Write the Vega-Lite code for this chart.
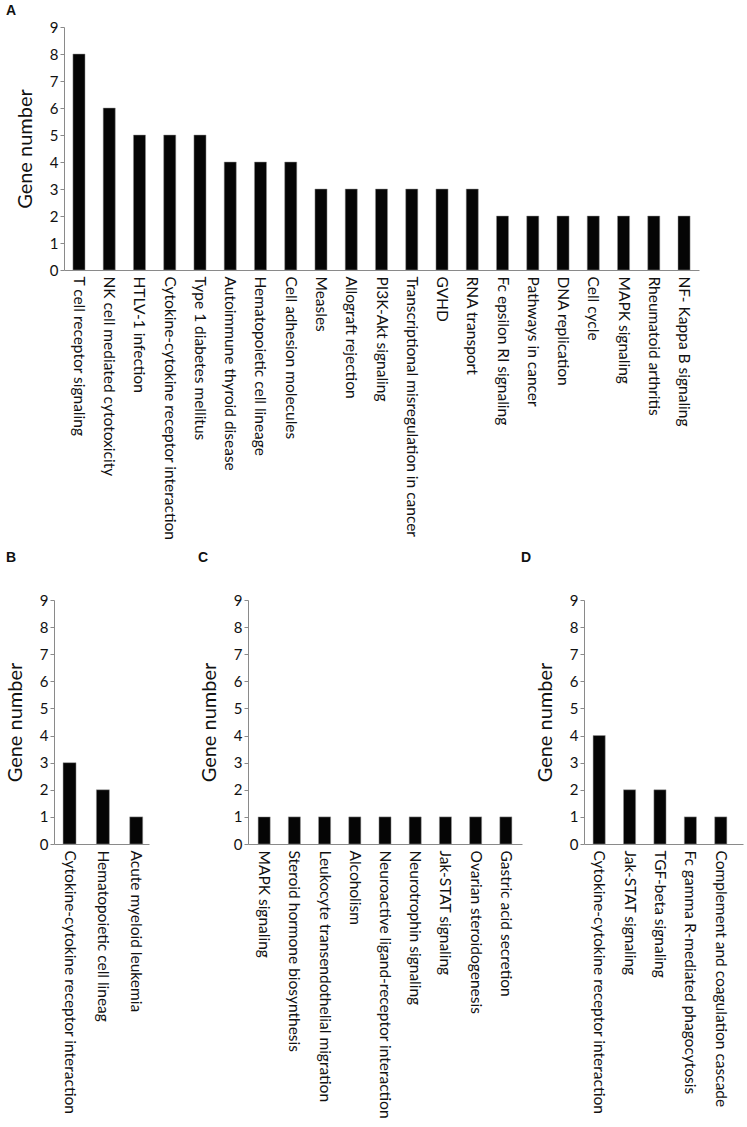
{
  "$schema": "https://vega.github.io/schema/vega-lite/v6.json",
  "background": "white",
  "padding": {"left": 5, "top": 4, "right": 5, "bottom": 5},
  "datasets": {
    "A": [
      {"pathway": "T cell receptor signaling", "genes": 8},
      {"pathway": "NK cell mediated cytotoxicity", "genes": 6},
      {"pathway": "HTLV-1 infection", "genes": 5},
      {"pathway": "Cytokine-cytokine receptor interaction", "genes": 5},
      {"pathway": "Type 1 diabetes mellitus", "genes": 5},
      {"pathway": "Autoimmune thyroid disease", "genes": 4},
      {"pathway": "Hematopoietic cell lineage", "genes": 4},
      {"pathway": "Cell adhesion molecules", "genes": 4},
      {"pathway": "Measles", "genes": 3},
      {"pathway": "Allograft rejection", "genes": 3},
      {"pathway": "PI3K-Akt signaling", "genes": 3},
      {"pathway": "Transcriptional misregulation in cancer", "genes": 3},
      {"pathway": "GVHD", "genes": 3},
      {"pathway": "RNA transport", "genes": 3},
      {"pathway": "Fc epsilon RI signaling", "genes": 2},
      {"pathway": "Pathways in cancer", "genes": 2},
      {"pathway": "DNA replication", "genes": 2},
      {"pathway": "Cell cycle", "genes": 2},
      {"pathway": "MAPK signaling", "genes": 2},
      {"pathway": "Rheumatoid arthritis", "genes": 2},
      {"pathway": "NF- Kappa B signaling", "genes": 2}
    ],
    "B": [
      {"pathway": "Cytokine-cytokine receptor interaction", "genes": 3},
      {"pathway": "Hematopoietic cell lineag", "genes": 2},
      {"pathway": "Acute myeloid leukemia", "genes": 1}
    ],
    "C": [
      {"pathway": "MAPK signaling", "genes": 1},
      {"pathway": "Steroid hormone biosynthesis", "genes": 1},
      {"pathway": "Leukocyte transendothelial migration", "genes": 1},
      {"pathway": "Alcoholism", "genes": 1},
      {"pathway": "Neuroactive ligand-receptor interaction", "genes": 1},
      {"pathway": "Neurotrophin signaling", "genes": 1},
      {"pathway": "Jak-STAT signaling", "genes": 1},
      {"pathway": "Ovarian steroidogenesis", "genes": 1},
      {"pathway": "Gastric acid secretion", "genes": 1}
    ],
    "D": [
      {"pathway": "Cytokine-cytokine receptor interaction", "genes": 4},
      {"pathway": "Jak-STAT signaling", "genes": 2},
      {"pathway": "TGF-beta signaling", "genes": 2},
      {"pathway": "Fc gamma R-mediated phagocytosis", "genes": 1},
      {"pathway": "Complement and coagulation cascade", "genes": 1}
    ]
  },
  "config": {
    "font": "Lato",
    "view": {"stroke": null},
    "axis": {"domainColor": "#8a8a8a", "tickColor": "#8a8a8a", "labelColor": "#111111", "titleColor": "#111111", "grid": false, "labelFont": "Lato", "titleFont": "Lato"},
    "axisY": {"tickSize": 4, "labelFontSize": 15, "titleFontSize": 20, "titleFontWeight": "normal", "labelPadding": 2, "titlePadding": 14},
    "axisX": {"ticks": false, "labelAngle": 90, "labelFontSize": 15.5, "labelPadding": 6, "labelLimit": 500, "title": null},
    "title": {"font": "Liberation Sans", "fontSize": 14, "fontWeight": "bold", "anchor": "start", "frame": "group", "color": "#111111"}
  },
  "vconcat": [
    {
      "spacing": -49,
      "hconcat": [
        {
          "data": {"values": []},
          "width": 1,
          "height": 243,
          "mark": {"type": "point", "opacity": 0},
          "encoding": {}
        },
        {
          "data": {"name": "A"},
          "title": {"text": "A", "dx": -58, "offset": 2},
          "width": 635,
          "height": 243,
          "mark": {"type": "bar", "color": "#050505", "stroke": "#9a9a9a", "strokeWidth": 0.5},
          "encoding": {
            "x": {"field": "pathway", "type": "nominal", "sort": null, "scale": {"paddingInner": 0.6, "paddingOuter": 0.295}},
            "y": {"field": "genes", "type": "quantitative", "title": "Gene number", "scale": {"domain": [0, 9]}, "axis": {"values": [0,1,2,3,4,5,6,7,8,9]}}
          }
        }
      ]
    },
    {
      "spacing": 49,
      "hconcat": [
        {
          "data": {"name": "B"},
          "title": {"text": "B", "dx": -48, "offset": 28},
          "width": 95,
          "height": 244,
          "mark": {"type": "bar", "color": "#050505", "stroke": "#9a9a9a", "strokeWidth": 0.5},
          "encoding": {
            "x": {"field": "pathway", "type": "nominal", "sort": null, "scale": {"paddingInner": 0.61, "paddingOuter": 0.23, "align": 0.59}},
            "y": {"field": "genes", "type": "quantitative", "title": "Gene number", "scale": {"domain": [0, 9]}, "axis": {"values": [0,1,2,3,4,5,6,7,8,9]}}
          }
        },
        {
          "spacing": -1,
          "hconcat": [
            {
              "data": {"name": "C"},
              "title": {"text": "C", "dx": -50, "offset": 28},
              "width": 274,
              "height": 244,
              "mark": {"type": "bar", "color": "#050505", "stroke": "#9a9a9a", "strokeWidth": 0.5},
              "encoding": {
                "x": {"field": "pathway", "type": "nominal", "sort": null, "scale": {"paddingInner": 0.6, "paddingOuter": 0.335}},
                "y": {"field": "genes", "type": "quantitative", "title": "Gene number", "scale": {"domain": [0, 9]}, "axis": {"values": [0,1,2,3,4,5,6,7,8,9]}}
              }
            },
            {
              "data": {"name": "D"},
              "title": {"text": "D", "dx": -63, "offset": 28},
              "width": 159,
              "height": 244,
              "mark": {"type": "bar", "color": "#050505", "stroke": "#9a9a9a", "strokeWidth": 0.5},
              "encoding": {
                "x": {"field": "pathway", "type": "nominal", "sort": null, "scale": {"paddingInner": 0.6, "paddingOuter": 0.415, "align": 0.36}},
                "y": {"field": "genes", "type": "quantitative", "title": "Gene number", "scale": {"domain": [0, 9]}, "axis": {"values": [0,1,2,3,4,5,6,7,8,9]}}
              }
            }
          ]
        }
      ]
    }
  ],
  "spacing": 11
}
